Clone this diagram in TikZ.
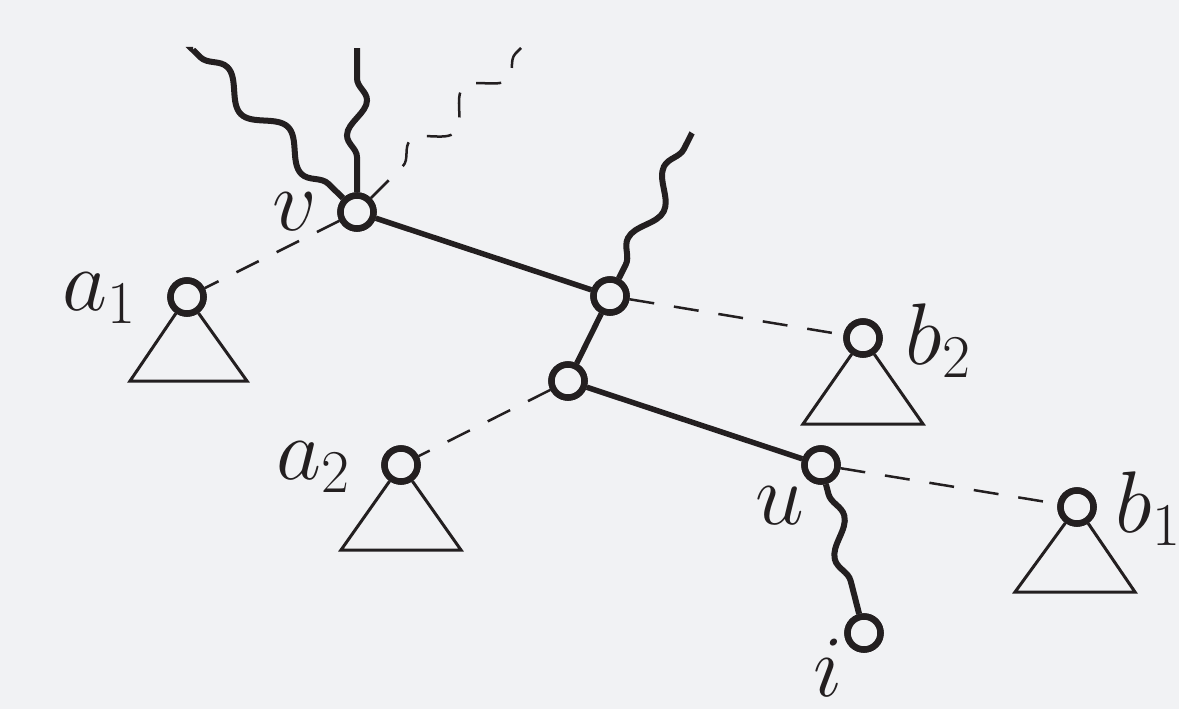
\documentclass[tikz,border=0pt]{standalone}
\usetikzlibrary{decorations.pathmorphing}
\definecolor{bg}{HTML}{F1F2F4}
\definecolor{ink}{HTML}{231F20}
\begin{document}
\begin{tikzpicture}[x=0.01cm, y=-0.01cm,
  vtx/.style={circle, draw=ink, fill=bg, line width=0.065cm, minimum size=0.33cm, inner sep=0pt},
  lbl/.style={anchor=base west, inner sep=0pt, text=ink, font=\fontsize{24}{28}\selectfont},
  solidedge/.style={draw=ink, line width=0.055cm},
  dashededge/.style={draw=ink, line width=0.025cm, dash pattern=on 0.25cm off 0.2cm},
  wavy/.style={draw=ink, line width=0.06cm, line cap=butt, decorate},
  subtree/.style={draw=ink, line width=0.03cm, line join=miter}]
  \fill[bg] (0,0) rectangle (1179,709);
  \useasboundingbox (0,0) rectangle (1179,709);

  % vertices
  \node[vtx] (v) at (357,212) {};
  \node[vtx] (m1) at (610,296) {};
  \node[vtx] (m2) at (568,381) {};
  \node[vtx] (u) at (821,465) {};
  \node[vtx] (i) at (864,633) {};
  \node[vtx] (a1) at (187,297) {};
  \node[vtx] (a2) at (401,465) {};
  \node[vtx] (b2) at (863,338) {};
  \node[vtx] (b1) at (1077,507) {};

  % free ends of the wavy and dashed branches
  \coordinate (t1) at (193,50);
  \coordinate (t2) at (357,48);
  \coordinate (t3) at (521,48);
  \coordinate (t4) at (692,133);

  % subtrees hanging below the leaves
  \draw[subtree] (a1) -- ++(-57,84) -- ++(117,0) -- (a1);
  \draw[subtree] (a2) -- ++(-60,85) -- ++(120,0) -- (a2);
  \draw[subtree] (b2) -- ++(-60,86) -- ++(120,0) -- (b2);
  \draw[subtree] (b1) -- ++(-62,85) -- ++(120,0) -- (b1);

  % tree edges
  \draw[solidedge] (v) -- (m1);
  \draw[solidedge] (m1) -- (m2);
  \draw[solidedge] (m2) -- (u);

  % dashed edges to the subtrees
  \draw[dashededge] (v) -- (a1);
  \draw[dashededge] (m1) -- (b2);
  \draw[dashededge] (m2) -- (a2);
  \draw[dashededge] (u) -- (b1);

  % wavy paths
  \draw[wavy, decoration={snake, segment length=0.85cm, amplitude=0.12cm, pre length=0.2cm, post length=0.02cm}] (v) -- (t1);
  \draw[wavy, decoration={snake, segment length=0.7cm, amplitude=0.1cm, pre length=0.35cm, post length=0.05cm}] (v) -- (t2);
  \draw[wavy, decoration={snake, segment length=0.8cm, amplitude=0.1cm, pre length=0.15cm, post length=0.02cm}] (m1) -- (t4);
  \draw[wavy, decoration={snake, segment length=0.8cm, amplitude=0.1cm, pre length=0.1cm, post length=0.15cm}] (u) -- (i);
  \draw[dashededge, decorate, decoration={snake, segment length=0.75cm, amplitude=0.13cm, pre length=0.45cm, post length=0.02cm}] (v) -- (t3);

  % redraw vertices on top
  \foreach \n in {v,m1,m2,u,i,a1,a2,b2,b1} \node[vtx] at (\n) {};

  % labels
  \node[lbl] (lv) at (272,230) {$v$};
  \node[lbl] (la1) at (62,310) {$a_1$};
  \node[lbl] (la2) at (276,479) {$a_2$};
  \node[lbl] (lb2) at (905,364) {$b_2$};
  \node[lbl] (lb1) at (1115,532) {$b_1$};
  \node[lbl] (lu) at (755,524) {$u$};
  \node[lbl] (li) at (813,696) {$i$};
\end{tikzpicture}
\end{document}
